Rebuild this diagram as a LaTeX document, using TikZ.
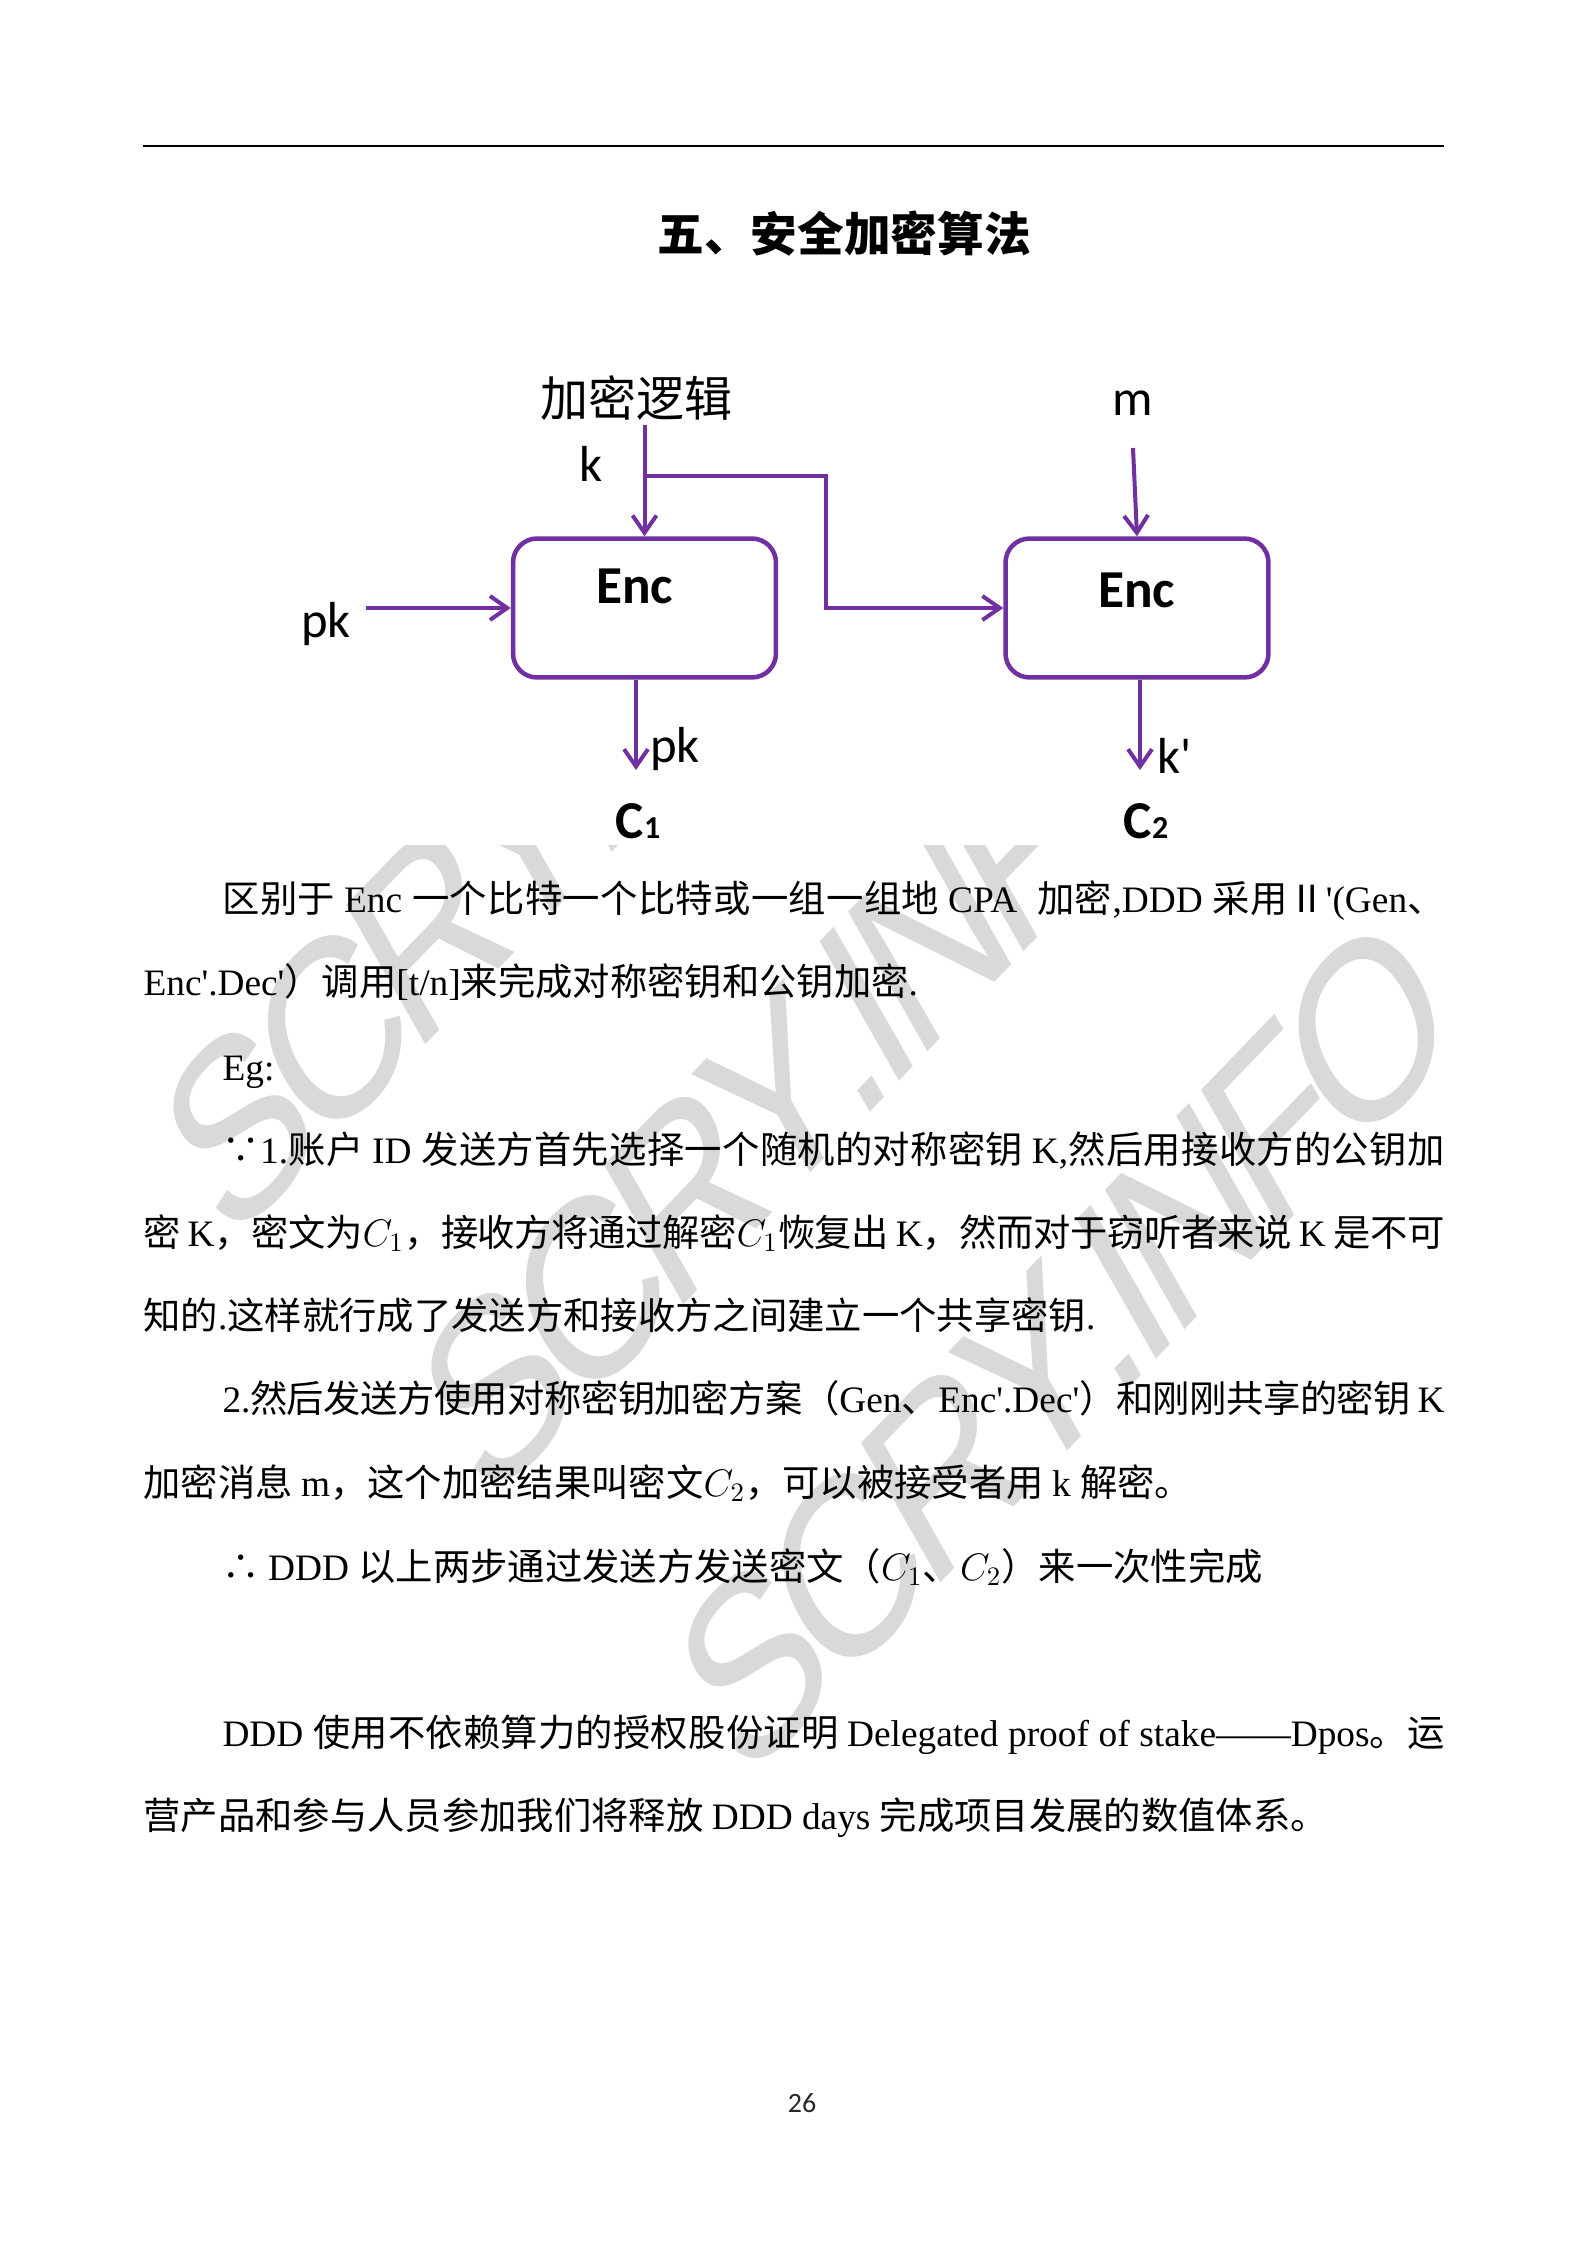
\documentclass[tikz,border=0pt]{standalone}
\usepackage{fontspec}
\setmainfont{Liberation Serif}
\newfontfamily\cjkf{Noto Sans CJK SC}
\newfontfamily\latf{Liberation Serif}
\newfontfamily\carl{Carlito}
\newfontfamily\wmf{Liberation Sans}
\usetikzlibrary{arrows.meta}
\definecolor{encpurple}{HTML}{7030A0}
\definecolor{wmgray}{HTML}{D9D9D9}
% ---- character classes for mixed CJK / Latin lines ----
\newcount\mycc
\mycc="4E00
\loop
\XeTeXcharclass\mycc=1
\advance\mycc by 1
\ifnum\mycc<"A000
\repeat
\XeTeXcharclass"2234=1
\XeTeXcharclass"2235=1
\XeTeXcharclass"2161=1
\XeTeXcharclass"FF08=2
\XeTeXcharclass"FF09=3
\XeTeXcharclass"FF0C=3
\XeTeXcharclass"3001=3
\XeTeXcharclass"3002=3
\newcommand\cg{\hskip 0pt plus 1pt minus 0.3pt\relax}
\XeTeXinterchartoks 4095 0 = {\latf}
\XeTeXinterchartoks 4095 1 = {\cjkf}
\XeTeXinterchartoks 4095 2 = {\cjkf}
\XeTeXinterchartoks 4095 3 = {\cjkf}
\XeTeXinterchartoks 0 1 = {\cg\cjkf}
\XeTeXinterchartoks 0 2 = {\cg\cjkf}
\XeTeXinterchartoks 0 3 = {\cjkf}
\XeTeXinterchartoks 1 0 = {\latf\cg}
\XeTeXinterchartoks 2 0 = {\latf}
\XeTeXinterchartoks 3 0 = {\latf\cg}
\XeTeXinterchartoks 1 1 = {\cg}
\XeTeXinterchartoks 1 2 = {\cg}
\XeTeXinterchartoks 3 1 = {\cg}
\XeTeXinterchartoks 3 2 = {\cg}
\XeTeXinterchartoks 3 3 = {\cg}
\newlength\fullw \setlength\fullw{487.9pt}
\newlength\indw \setlength\indw{458.25pt}
\newcommand\fl[1]{\hbox to\fullw{\XeTeXinterchartokenstate=1 #1}}
\newcommand\il[1]{\hbox to\indw{\XeTeXinterchartokenstate=1 #1}}
\newcommand\nl[1]{\hbox{\XeTeXinterchartokenstate=1 #1}}
\newcommand\wmtext{S\kern-.08em C\kern-.08em R\kern-.08em Y\kern-.08em .\kern-.08em I\kern-.08em N\kern-.08em F\kern-.08em O}
\begin{document}
\begin{tikzpicture}[x=0.375pt,y=-0.375pt,
  box/.style={draw=encpurple, line width=1.7pt, rounded corners=9pt,
    minimum width=98.6pt, minimum height=52.1pt, inner sep=0pt},
  arr/.style={draw=encpurple, line width=1.5pt, -{Straight Barb[length=6.5pt,width=9pt]}},
  lbl/.style={font=\carl\fontsize{19}{19}\selectfont, inner sep=0pt, anchor=base},
  enc/.style={font=\carl\bfseries\fontsize{20}{20}\selectfont, inner sep=0pt, anchor=base},
  body/.style={font=\fontsize{14}{14}\selectfont, inner sep=0pt, anchor=base west},
  wm/.style={font=\wmf\fontsize{71}{71}\selectfont, text=wmgray, inner sep=0pt,
    rotate=37.5, transform shape},
]
\useasboundingbox (0,0) rectangle (1587,2245);
\fill[white] (0,0) rectangle (1587,2245);
% watermark
\begin{scope}
\clip (0,845) rectangle (1587,2245);
\foreach \n/\px/\py in {A/550/805, B/808/1065, C/1065/1343} {
  \begin{scope}[shift={(\px,\py)}, yscale=1.35]
    \node[wm] (wm\n) at (0,0) {\wmtext};
  \end{scope}
}
\end{scope}
% header rule and title
\draw[line width=0.8pt] (143,146) -- (1444,146);
\node[font=\cjkf\bfseries\fontsize{17.5}{17.5}\selectfont, inner sep=0pt, anchor=base] (title) at (844,251) {五、安全加密算法};
% diagram
\node[font=\cjkf\fontsize{18}{18}\selectfont, inner sep=0pt, anchor=base] (logic) at (636,416) {加密逻辑};
\node[lbl] (klab) at (591,481) {k};
\node[box] (b1) at (644.5,608) {};
\node[box] (b2) at (1137,608) {};
\node[enc] (e1) at (634.5,603) {Enc};
\node[enc] (e2) at (1136.5,607) {Enc};
\node[lbl] (pkin) at (326,637) {pk};
\node[lbl] (mlab) at (1133,415) {m};
\node[lbl] (pkout) at (675,762) {pk};
\node[lbl] (kpr) at (1175,773) {k'};
\node[enc] (c1) at (638,838) {C{\fontsize{12}{12}\selectfont 1}};
\node[enc] (c2) at (1146,838) {C{\fontsize{12}{12}\selectfont 2}};
\coordinate (ktop) at (644.5,425);
\coordinate (kjoin) at (644.5,475.5);
\coordinate (bend1) at (826,475.5);
\coordinate (bend2) at (826,608);
\coordinate (pktail) at (366,608);
\coordinate (mtail) at (1133,448);
\coordinate (o1) at (636,770);
\coordinate (o2) at (1140,770);
\draw[arr] (ktop) -- (b1.north);
\draw[arr] (kjoin) -- (bend1) -- (bend2) -- (b2.west);
\draw[arr] (pktail) -- (b1.west);
\draw[arr] (mtail) -- (b2.north);
\draw[arr] (b1.south -| o1) -- (o1);
\draw[arr] (b2.south -| o2) -- (o2);
% body text
\node[body] (l1) at (222,912) {\il{区别于 Enc 一个比特一个比特或一组一组地 CPA\ \ 加密,DDD 采用Ⅱ'(Gen、}};
\node[body] (l2) at (143,995) {\nl{Enc'.Dec'）调用[t/n]来完成对称密钥和公钥加密.}};
\node[body] (l3) at (222,1080) {\nl{Eg:}};
\node[body] (l4) at (222,1163) {\il{∵1.账户 ID 发送方首先选择一个随机的对称密钥 K,然后用接收方的公钥加}};
\node[body] (l5) at (143,1246) {\fl{密 K，密文为$C_1$，接收方将通过解密$C_1$恢复出 K，然而对于窃听者来说 K 是不可}};
\node[body] (l6) at (143,1329) {\nl{知的.这样就行成了发送方和接收方之间建立一个共享密钥.}};
\node[body] (l7) at (222,1412) {\il{2.然后发送方使用对称密钥加密方案（Gen、Enc'.Dec'）和刚刚共享的密钥 K}};
\node[body] (l8) at (143,1496) {\nl{加密消息 m，这个加密结果叫密文$C_2$，可以被接受者用 k 解密。}};
\node[body] (l9) at (222,1580) {\nl{∴ DDD 以上两步通过发送方发送密文（$C_1$、$C_2$）来一次性完成}};
\node[body] (l10) at (222,1746) {\il{DDD 使用不依赖算力的授权股份证明 Delegated proof of stake——Dpos。运}};
\node[body] (l11) at (143,1829) {\nl{营产品和参与人员参加我们将释放 DDD days 完成项目发展的数值体系。}};
% page number
\node[font=\carl\fontsize{10.5}{10.5}\selectfont, inner sep=0pt, anchor=base, text=black!85] (pg) at (802,2112) {26};
\end{tikzpicture}
\end{document}
